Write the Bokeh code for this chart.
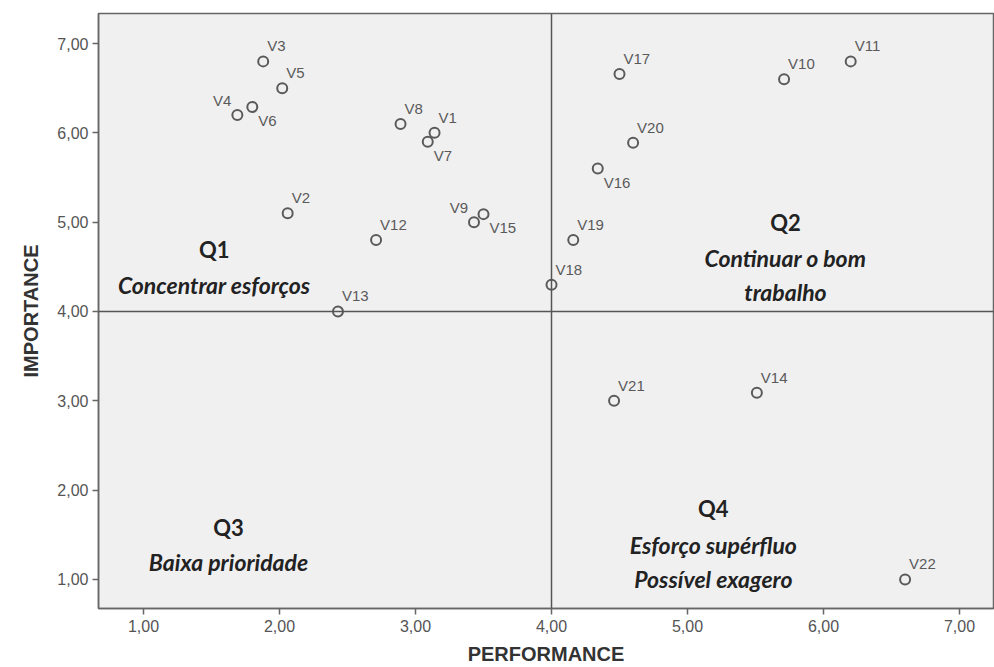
from bokeh.plotting import figure
from bokeh.models import (ColumnDataSource, Span, Label, FixedTicker,
                          CustomJSTickFormatter, Range1d)
from bokeh.embed import file_html
from bokeh.resources import INLINE
from bokeh.core.properties import value

# ---- data ----
names = ["V1", "V2", "V3", "V4", "V5", "V6", "V7", "V8", "V9", "V10", "V11",
         "V12", "V13", "V14", "V15", "V16", "V17", "V18", "V19", "V20", "V21", "V22"]
performance = [3.14, 2.06, 1.88, 1.69, 2.02, 1.80, 3.09, 2.89, 3.43, 5.71, 6.20,
               2.71, 2.43, 5.51, 3.50, 4.34, 4.50, 4.00, 4.16, 4.60, 4.46, 6.60]
importance = [6.00, 5.10, 6.80, 6.20, 6.50, 6.29, 5.90, 6.10, 5.00, 6.60, 6.80,
              4.80, 4.00, 3.09, 5.09, 5.60, 6.66, 4.30, 4.80, 5.89, 3.00, 1.00]
tick_values = [1, 2, 3, 4, 5, 6, 7]
x_cut = 4.0
y_cut = 4.0
quadrant_titles = ["Q1", "Q2", "Q3", "Q4"]
quadrant_texts = [["Concentrar esforços"],
                  ["Continuar o bom", "trabalho"],
                  ["Baixa prioridade"],
                  ["Esforço supérfluo", "Possível exagero"]]

# ---- label placement style (screen px) ----
place = {"V4": "ul", "V9": "ul", "V6": "lr", "V7": "lr", "V16": "lr", "V15": "lr"}
xo, yo, al, bl = [], [], [], []
for n in names:
    k = place.get(n, "ur")
    if k == "ur":
        xo.append(4); yo.append(-7); al.append("left"); bl.append("bottom")
    elif k == "ul":
        xo.append(-6); yo.append(-6); al.append("right"); bl.append("bottom")
    else:
        xo.append(6); yo.append(5); al.append("left"); bl.append("top")

src = ColumnDataSource(dict(x=performance, y=importance, name=names,
                            xo=xo, yo=yo, al=al, bl=bl))

p = figure(width=994, height=667, output_backend="svg", toolbar_location=None,
           x_range=Range1d(0.669, 7.25), y_range=Range1d(0.675, 7.336),
           min_border_left=98, min_border_right=1, min_border_top=13,
           min_border_bottom=59)
p.background_fill_color = "#f0f0f1"
p.border_fill_color = "white"
p.outline_line_color = "#666666"
p.outline_line_width = 1.5
p.xgrid.visible = False
p.ygrid.visible = False

fmt = CustomJSTickFormatter(code="return tick.toFixed(2).replace('.', ',');")
for ax in (p.xaxis[0], p.yaxis[0]):
    ax.ticker = FixedTicker(ticks=tick_values)
    ax.formatter = fmt
    ax.major_tick_in = 0
    ax.major_tick_out = 6
    ax.minor_tick_line_color = None
    ax.axis_line_color = "#666666"
    ax.axis_line_width = 1.5
    ax.major_tick_line_color = "#666666"
    ax.major_tick_line_width = 1.5
    ax.major_label_text_font = "Liberation Sans"
    ax.major_label_text_font_size = "16px"
    ax.major_label_text_color = "#555555"
    ax.axis_label_text_font = "Liberation Sans"
    ax.axis_label_text_font_style = "bold"
    ax.axis_label_text_font_size = "20px"
    ax.axis_label_text_color = "#333333"
p.xaxis.axis_label = "PERFORMANCE"
p.yaxis.axis_label = "IMPORTANCE"
p.xaxis.major_label_standoff = 5
p.xaxis.axis_label_standoff = 8
p.yaxis.major_label_standoff = 4
p.yaxis.axis_label_standoff = 12

p.add_layout(Span(location=x_cut, dimension="height", line_color="#555555", line_width=1.5))
p.add_layout(Span(location=y_cut, dimension="width", line_color="#555555", line_width=1.5))

p.scatter("x", "y", source=src, size=10, fill_color=None,
          line_color="#5a5a5a", line_width=2)
p.text("x", "y", text="name", source=src, x_offset="xo", y_offset="yo",
       text_align="al", text_baseline="bl", text_font=value("Liberation Sans"),
       text_font_size="15px", text_color="#5a5a5a")

# quadrant annotations: (x, y) anchor for the title and each text line
q_anchor = [[(1.52, 4.69), (1.52, 4.30)],
            [(5.72, 5.00), (5.72, 4.60), (5.72, 4.22)],
            [(1.625, 1.58), (1.625, 1.19)],
            [(5.19, 1.79), (5.19, 1.39), (5.19, 1.00)]]
for anchors, title, lines in zip(q_anchor, quadrant_titles, quadrant_texts):
    tx, ty = anchors[0]
    p.add_layout(Label(x=tx, y=ty, text=title, text_align="center",
                       text_baseline="middle", text_font="Lato",
                       text_font_style="bold", text_font_size="22px",
                       text_color="#222222"))
    for (lx, ly), t in zip(anchors[1:], lines):
        p.add_layout(Label(x=lx, y=ly, text=t,
                           text_align="center", text_baseline="middle",
                           text_font="Lato", text_font_style="bold italic",
                           text_font_size="23px", text_color="#222222"))

open("out.html", "w").write(file_html(p, INLINE))
